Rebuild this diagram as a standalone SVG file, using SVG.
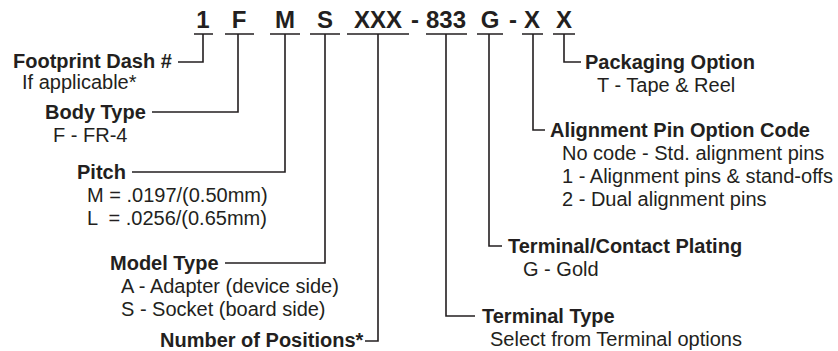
<svg xmlns="http://www.w3.org/2000/svg" width="838" height="351" viewBox="0 0 838 351">
<style>
text{font-family:"Liberation Sans",Arial,sans-serif;fill:#231f20}
.code{font-size:24px;font-weight:bold;text-anchor:middle}
.t{font-size:20px;font-weight:bold}
.s{font-size:20px;white-space:pre}
.ln{fill:none;stroke:#231f20;stroke-width:1.6}
</style>
<rect width="838" height="351" fill="#fff"/>
<g id="code">
<text class="code" x="203" y="28">1</text>
<text class="code" x="239" y="28">F</text>
<text class="code" x="285" y="28">M</text>
<text class="code" x="325" y="28">S</text>
<text class="code" x="378" y="28">XXX</text>
<text class="code" x="415" y="28">-</text>
<text class="code" x="446" y="28">833</text>
<text class="code" x="490" y="28">G</text>
<text class="code" x="513" y="28">-</text>
<text class="code" x="532" y="28">X</text>
<text class="code" x="564" y="28">X</text>
<path class="ln" d="M194,34H213M225,34H254M270,34H300M310,34H340M347,34H409M426,34H467M477,34H503M522,34H543M553,34H575"/>
</g>
<g id="connectors">
<path class="ln" d="M203,34V62H178"/>
<path class="ln" d="M238,34V112H152"/>
<path class="ln" d="M285,34V172H132"/>
<path class="ln" d="M325,34V263H225"/>
<path class="ln" d="M378,34V341H365"/>
<path class="ln" d="M446,34V316H475"/>
<path class="ln" d="M489,34V246H502"/>
<path class="ln" d="M533,34V130H545"/>
<path class="ln" d="M564,34V62H581"/>
</g>
<g id="footprint">
<text class="t" x="13" y="68">Footprint Dash #</text>
<text class="s" x="22" y="89">If applicable*</text>
</g>
<g id="body-type">
<text class="t" x="45" y="119">Body Type</text>
<text class="s" x="53" y="142">F - FR-4</text>
</g>
<g id="pitch">
<text class="t" x="77" y="179">Pitch</text>
<text class="s" x="87" y="202">M = .0197/(0.50mm)</text>
<text class="s" x="87" y="225">L  = .0256/(0.65mm)</text>
</g>
<g id="model-type">
<text class="t" x="110" y="270">Model Type</text>
<text class="s" x="121" y="293">A - Adapter (device side)</text>
<text class="s" x="121" y="316">S - Socket (board side)</text>
</g>
<g id="positions">
<text class="t" x="160" y="347">Number of Positions*</text>
</g>
<g id="packaging">
<text class="t" x="585" y="69">Packaging Option</text>
<text class="s" x="597" y="92">T - Tape &amp; Reel</text>
</g>
<g id="alignment">
<text class="t" x="550" y="137">Alignment Pin Option Code</text>
<text class="s" x="562" y="160">No code - Std. alignment pins</text>
<text class="s" x="562" y="183">1 - Alignment pins &amp; stand-offs</text>
<text class="s" x="562" y="206">2 - Dual alignment pins</text>
</g>
<g id="plating">
<text class="t" x="508" y="253">Terminal/Contact Plating</text>
<text class="s" x="523" y="276">G - Gold</text>
</g>
<g id="terminal-type">
<text class="t" x="482" y="323">Terminal Type</text>
<text class="s" x="490" y="346">Select from Terminal options</text>
</g>
</svg>
